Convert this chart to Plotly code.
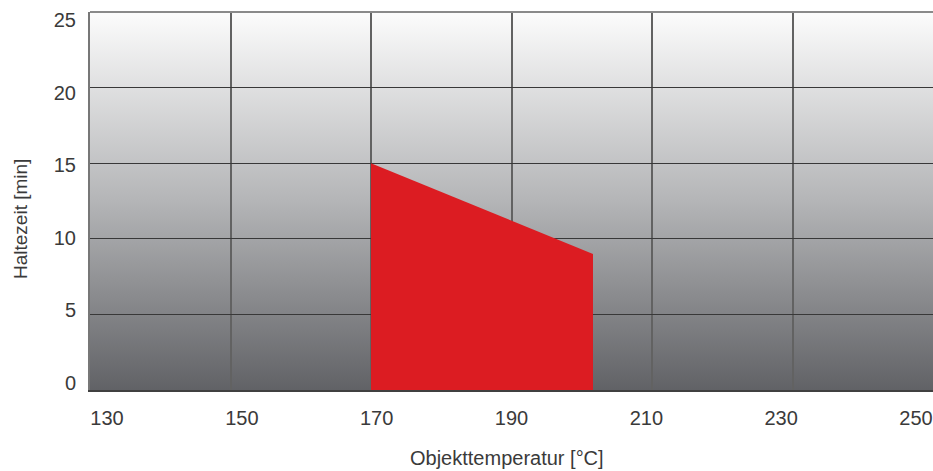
import base64
import plotly.graph_objects as go

# ---- data ----
temperature = [170, 170, 201.6, 201.6]      # Objekttemperatur [°C]
hold_time = [0, 15, 9, 0]                   # Haltezeit [min]
x_ticks = [130, 150, 170, 190, 210, 230, 250]
y_ticks = [0, 5, 10, 15, 20, 25]
x_range = [130, 250]
y_range = [0, 25]
# label axes (labels in the original sit on a slightly compressed scale)
x_label_range = [127.48, 252.52]
y_label_range = [-0.48, 25.55]

RED = "#dc1c22"
FONT = "Liberation Sans, Arial, Helvetica, sans-serif"
TXT = "#3a3a3a"

svg = (
    '<svg xmlns="http://www.w3.org/2000/svg" width="100" height="100" preserveAspectRatio="none">'
    '<defs><linearGradient id="g" x1="0" y1="0" x2="0" y2="1">'
    '<stop offset="0" stop-color="#fcfcfc"/>'
    '<stop offset="0.5" stop-color="#b4b5b7"/>'
    '<stop offset="1" stop-color="#616266"/>'
    '</linearGradient></defs>'
    '<rect width="100" height="100" fill="url(#g)"/></svg>'
)
bg_src = "data:image/svg+xml;base64," + base64.b64encode(svg.encode()).decode()

fig = go.Figure()

fig.add_trace(go.Scatter(
    x=temperature, y=hold_time, fill="toself", mode="lines",
    line=dict(color=RED, width=0), fillcolor=RED, hoverinfo="skip",
    showlegend=False,
))

# invisible trace that anchors the label axes
fig.add_trace(go.Scatter(
    x=[x_ticks[0], x_ticks[-1]], y=[y_ticks[0], y_ticks[-1]],
    xaxis="x2", yaxis="y2", mode="markers", marker=dict(opacity=0),
    hoverinfo="skip", showlegend=False,
))

fig.update_layout(
    width=933, height=471,
    margin=dict(l=90, r=0, t=12, b=81),
    paper_bgcolor="white",
    plot_bgcolor="rgba(0,0,0,0)",
    font=dict(family=FONT, color=TXT, size=20),
    images=[dict(source=bg_src, xref="paper", yref="paper", x=0, y=1,
                 sizex=1, sizey=1, xanchor="left", yanchor="top",
                 sizing="stretch", layer="below")],
    xaxis=dict(range=x_range, tickvals=x_ticks, showticklabels=False,
               showgrid=True, gridcolor="#626262", gridwidth=1.5,
               showline=True, linecolor="#404040", linewidth=2,
               zeroline=False, ticks="", fixedrange=True),
    yaxis=dict(range=y_range, tickvals=y_ticks, showticklabels=False,
               showgrid=True, gridcolor="#383838", gridwidth=1.3,
               showline=True, linecolor="#777777", linewidth=1.5,
               zeroline=False, ticks="", fixedrange=True),
    xaxis2=dict(range=x_label_range, tickvals=x_ticks, overlaying="x",
                side="bottom", anchor="y", showgrid=False, zeroline=False,
                showline=False, ticks="", ticklabelstandoff=14,
                tickfont=dict(size=20, color=TXT), fixedrange=True),
    yaxis2=dict(range=y_label_range, tickvals=y_ticks, overlaying="y",
                side="left", anchor="x", showgrid=False, zeroline=False,
                showline=False, ticks="", ticklabelstandoff=13,
                tickfont=dict(size=20, color=TXT), fixedrange=True),
    shapes=[dict(type="line", xref="paper", yref="paper", x0=0, x1=1, y0=1, y1=1,
                 line=dict(color="#8a8a8a", width=2), layer="above")],
    annotations=[
        dict(text="Objekttemperatur [°C]", xref="paper", yref="paper",
             x=0.495, y=0, yshift=-68, showarrow=False,
             font=dict(size=20, color=TXT), xanchor="center", yanchor="middle"),
        dict(text="Haltezeit [min]", xref="paper", yref="paper",
             x=0, xshift=-70, y=0.5, yshift=-18, textangle=-90, showarrow=False,
             font=dict(size=19, color=TXT), xanchor="center", yanchor="middle"),
    ],
)

fig.write_html("out.html", config={"displayModeBar": False},
               post_script="document.body.style.margin='0';document.body.style.padding='0';")
